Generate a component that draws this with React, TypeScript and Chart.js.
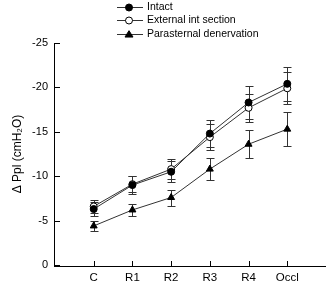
import React, { useEffect, useRef } from 'react';
import { Chart, registerables } from 'chart.js';
Chart.register(...registerables);

const categories = ['C', 'R1', 'R2', 'R3', 'R4', 'Occl'];
const intact = [-6.3, -9.0, -10.5, -14.8, -18.3, -20.4];
const intactErr = [0.8, 1.0, 1.2, 1.5, 1.9, 1.9];
const external = [-6.6, -9.1, -10.8, -14.4, -17.7, -19.9];
const externalErr = [0.7, 0.9, 1.1, 1.5, 1.6, 1.8];
const parasternal = [-4.4, -6.2, -7.6, -10.8, -13.6, -15.3];
const parasternalErr = [0.6, 0.7, 0.9, 1.2, 1.6, 1.9];
const yTicks = [0, -5, -10, -15, -20, -25];
const seriesNames = ['Intact', 'External int section', 'Parasternal denervation'];

const FONT = '"Liberation Sans", Arial, sans-serif';

function drawMarker(ctx: CanvasRenderingContext2D, style: string, x: number, y: number, r: number, fill: string) {
  ctx.save();
  ctx.beginPath();
  if (style === 'triangle') {
    const h = r * 1.6;
    ctx.moveTo(x, y - h * 0.6);
    ctx.lineTo(x + r, y + h * 0.4);
    ctx.lineTo(x - r, y + h * 0.4);
    ctx.closePath();
  } else {
    ctx.arc(x, y, r, 0, Math.PI * 2);
  }
  ctx.fillStyle = fill;
  ctx.fill();
  ctx.lineWidth = 1;
  ctx.strokeStyle = '#000';
  ctx.stroke();
  ctx.restore();
}

const extrasPlugin = {
  id: 'extras',
  beforeDatasetsDraw(chart: any) {
    const ctx = chart.ctx;
    const xs = chart.scales.x;
    const ys = chart.scales.y;
    const errs = [intactErr, externalErr, parasternalErr];
    ctx.save();
    ctx.strokeStyle = '#333';
    ctx.lineWidth = 1;
    chart.data.datasets.forEach((ds: any, i: number) => {
      ds.data.forEach((p: any, j: number) => {
        const px = Math.round(xs.getPixelForValue(p.x)) + 0.5;
        const top = Math.round(ys.getPixelForValue(p.y - errs[i][j])) + 0.5;
        const bot = Math.round(ys.getPixelForValue(p.y + errs[i][j])) + 0.5;
        ctx.beginPath();
        ctx.moveTo(px, top);
        ctx.lineTo(px, bot);
        ctx.moveTo(px - 4, top);
        ctx.lineTo(px + 4, top);
        ctx.moveTo(px - 4, bot);
        ctx.lineTo(px + 4, bot);
        ctx.stroke();
      });
    });
    ctx.restore();
  },
  afterDraw(chart: any) {
    const ctx = chart.ctx;
    const xs = chart.scales.x;
    const ys = chart.scales.y;
    const a = chart.chartArea;
    const L = Math.round(a.left);
    const T = Math.round(a.top);
    const B = Math.round(a.bottom);
    const R = Math.round(a.right);
    ctx.save();
    // axes with inward tick marks
    ctx.fillStyle = '#000';
    ctx.fillRect(L - 1, T, 1, B - T + 2);
    ctx.fillRect(L - 1, B + 1, R - L + 1, 1);
    yTicks.forEach((v) => {
      const py = Math.round(ys.getPixelForValue(v));
      ctx.fillRect(L - 1, py, 6, 1);
    });
    categories.forEach((_, i) => {
      const px = Math.round(xs.getPixelForValue(i + 1));
      ctx.fillRect(px, B - 4, 1, 5);
    });
    // legend
    ctx.font = '10.5px ' + FONT;
    ctx.textBaseline = 'middle';
    chart.data.datasets.forEach((ds: any, i: number) => {
      const y = Math.round(7 + i * 13.3) + 0.5;
      ctx.beginPath();
      ctx.strokeStyle = '#333';
      ctx.lineWidth = 1;
      ctx.moveTo(117, y);
      ctx.lineTo(143, y);
      ctx.stroke();
      drawMarker(ctx, ds.pointStyle, 129, y, ds.pointRadius, ds.pointBackgroundColor);
      ctx.fillStyle = '#000';
      ctx.fillText(seriesNames[i], 147, y);
    });
    ctx.restore();
  },
};

export default function App() {
  const ref = useRef<HTMLCanvasElement>(null);
  useEffect(() => {
    if (!ref.current) return;
    const toPts = (arr: number[]) => arr.map((v, i) => ({ x: i + 1, y: v }));
    const base = { borderColor: '#333', borderWidth: 1, pointBorderColor: '#000', pointBorderWidth: 1, tension: 0, clip: false };
    const chart = new Chart(ref.current, {
      type: 'line',
      data: {
        datasets: [
          { ...base, label: seriesNames[0], data: toPts(intact), pointStyle: 'circle', pointRadius: 3.5, pointBackgroundColor: '#000' },
          { ...base, label: seriesNames[1], data: toPts(external), pointStyle: 'circle', pointRadius: 3.5, pointBackgroundColor: '#fff' },
          { ...base, label: seriesNames[2], data: toPts(parasternal), pointStyle: 'triangle', pointRadius: 4, pointBackgroundColor: '#000' },
        ],
      },
      options: {
        responsive: false,
        animation: false,
        layout: { padding: { top: 43, right: 4, left: 0, bottom: 0 } },
        plugins: { legend: { display: false }, tooltip: { enabled: false } },
        scales: {
          x: {
            type: 'linear',
            min: 0,
            max: 7,
            afterBuildTicks: (s: any) => { s.ticks = categories.map((_, i) => ({ value: i + 1 })); },
            afterFit: (s: any) => { s.height = 21; },
            ticks: {
              callback: (v: any) => categories[Number(v) - 1] ?? '',
              font: { family: FONT, size: 11.5 },
              color: '#000',
              padding: 6,
              maxRotation: 0,
              autoSkip: false,
            },
            grid: { display: false, drawTicks: false },
            border: { display: false },
          },
          y: {
            type: 'linear',
            min: -25,
            max: 0,
            reverse: true,
            afterBuildTicks: (s: any) => { s.ticks = yTicks.map((v) => ({ value: v })); },
            afterFit: (s: any) => { s.width = 55; },
            ticks: {
              callback: (v: any) => String(v),
              font: { family: FONT, size: 11 },
              color: '#000',
              padding: 7,
            },
            grid: { display: false, drawTicks: false },
            border: { display: false },
            title: {
              display: true,
              text: 'Δ Ppl (cmH₂O)',
              font: { family: FONT, size: 12 },
              color: '#000',
              padding: { top: 10, bottom: 0 },
            },
          },
        },
      },
      plugins: [extrasPlugin],
    } as any);
    return () => chart.destroy();
  }, []);
  return (
    <canvas
      ref={ref}
      width={331}
      height={286}
      style={{ position: 'fixed', left: 0, top: 0, width: 331, height: 286, background: '#fff' }}
    />
  );
}
